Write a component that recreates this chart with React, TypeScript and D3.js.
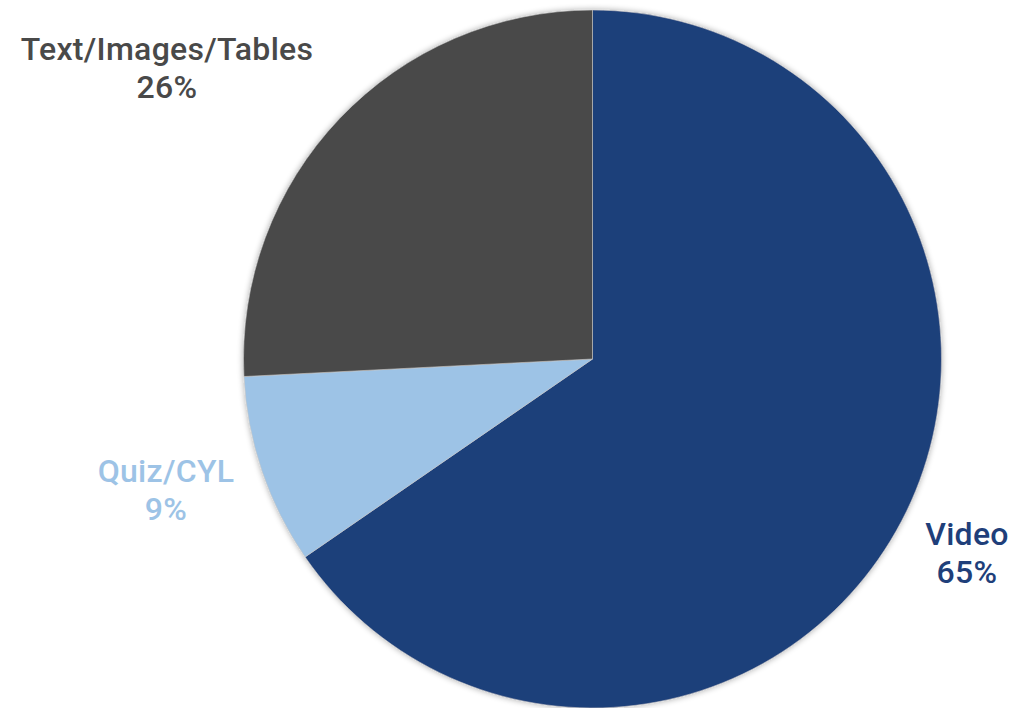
import React from "react";
import * as d3 from "d3";

const categories = ["Video", "Quiz/CYL", "Text/Images/Tables"];
const values = [65.4, 8.8, 25.8];
const percentLabels = ["65%", "9%", "26%"];
const colors = ["#1F3F7A", "#9DC3E6", "#494949"];
const labelPos: [number, number][] = [
  [967, 545],
  [166, 482],
  [167, 60],
];

export default function App() {
  const width = 1017;
  const height = 708;
  const cx = 592.5;
  const cy = 359;
  const r = 349;
  const data = categories.map((c, i) => ({ c, v: values[i], p: percentLabels[i], color: colors[i], pos: labelPos[i] }));
  const pie = d3.pie<any>().value((d) => d.v).sort(null);
  const arc = d3.arc<any>().innerRadius(0).outerRadius(r);
  const arcs = pie(data);
  return (
    <svg
      width={width}
      height={height}
      style={{ position: "absolute", left: 0, top: 0, background: "#fff" }}
    >
      <defs>
        <filter id="sh" x="-10%" y="-10%" width="120%" height="120%">
          <feGaussianBlur in="SourceAlpha" stdDeviation="3" />
          <feComponentTransfer>
            <feFuncA type="linear" slope="0.35" />
          </feComponentTransfer>
          <feMerge>
            <feMergeNode />
            <feMergeNode in="SourceGraphic" />
          </feMerge>
        </filter>
      </defs>
      <g transform={`translate(${cx},${cy})`} filter="url(#sh)">
        {arcs.map((a, i) => (
          <path key={i} d={arc(a) as string} fill={a.data.color} stroke="#c8c8c8" strokeWidth={0.6} />
        ))}
      </g>
      {data.map((d, i) => (
        <text
          key={i}
          x={d.pos[0]}
          y={d.pos[1]}
          textAnchor="middle"
          fill={d.color}
          style={{ fontFamily: "Roboto, 'Liberation Sans', sans-serif", fontSize: 32, fontWeight: 500, letterSpacing: 0.3 }}
        >
          <tspan x={d.pos[0]}>{d.c}</tspan>
          <tspan x={d.pos[0]} dy={38}>{d.p}</tspan>
        </text>
      ))}
    </svg>
  );
}
